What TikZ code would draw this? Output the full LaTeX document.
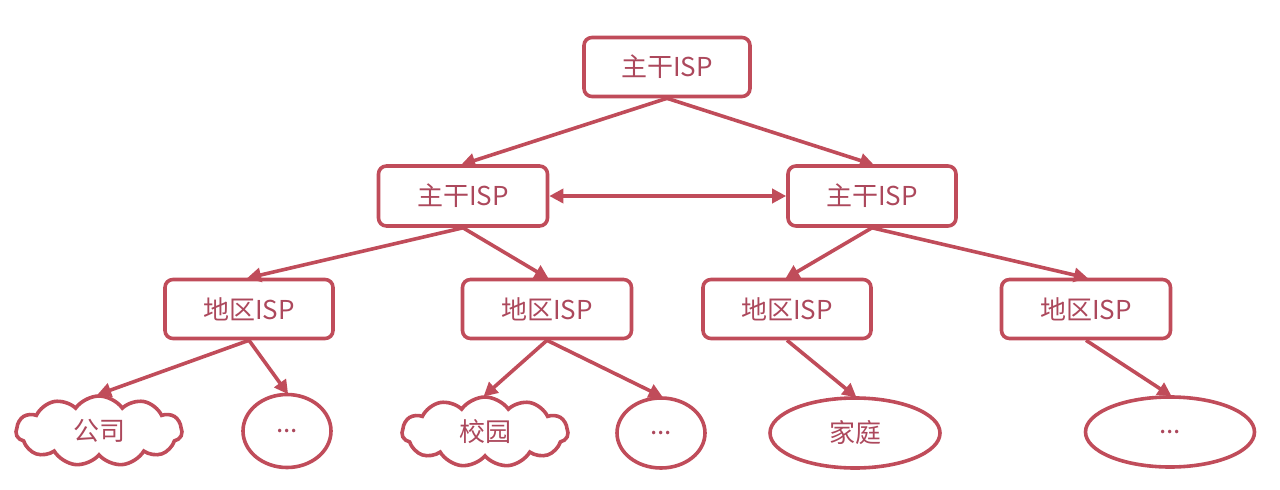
\documentclass[tikz,border=0pt]{standalone}
\usepackage{fontspec}
\setmainfont{Noto Sans CJK SC}
\usetikzlibrary{shapes.symbols,shapes.geometric,arrows.meta}
\definecolor{ln}{RGB}{192,76,90}
\definecolor{tx}{RGB}{172,72,92}
\tikzset{
  base/.style={draw=ln,line width=3.6pt,text=tx,font=\fontsize{26}{30}\selectfont,inner sep=0pt},
  isp/.style={base,rectangle,rounded corners=8pt,minimum width=166pt,minimum height=59pt},
  oval/.style={base,ellipse,minimum width=#1,minimum height=70pt},
  cld/.style={base,cloud,cloud puffs=11,cloud puff arc=110,aspect=2.4,minimum width=166pt,minimum height=70pt},
  conn/.style={draw=ln,line width=3.6pt,-{Triangle[length=14pt,width=14pt]},shorten >=-2pt},
  conn2/.style={draw=ln,line width=3.6pt,{Triangle[length=14pt,width=14pt]}-{Triangle[length=14pt,width=14pt]}}
}
\begin{document}
\begin{tikzpicture}[x=1pt,y=-1pt]
\useasboundingbox (0,0) rectangle (1280,490);
\node[isp] (top) at (667,67) {主干ISP};
\node[isp,minimum width=169pt,minimum height=60pt] (ml) at (463,196) {主干ISP};
\node[isp,minimum width=168pt,minimum height=60pt] (mr) at (872,196) {主干ISP};
\node[isp,minimum width=168pt] (r1) at (249,309) {地区ISP};
\node[isp,minimum width=169pt] (r2) at (547,309) {地区ISP};
\node[isp,minimum width=168pt] (r3) at (787,309) {地区ISP};
\node[isp,minimum width=169pt] (r4) at (1086,309) {地区ISP};
\node[cld] (c1) at (99,431) {公司};
\node[oval=88pt,minimum height=73pt] (e1) at (287,431) {...};
\node[cld] (c2) at (485,432) {校园};
\node[oval=88pt] (e2) at (661,433) {...};
\node[oval=170pt] (e3) at (855,433) {家庭};
\node[oval=169pt] (e4) at (1170,432) {...};
\draw[conn] (top.south) -- (ml.north);
\draw[conn] (top.south) -- (mr.north);
\draw[conn2] (ml.east) -- (mr.west);
\draw[conn] (ml.south) -- (r1.north);
\draw[conn] (ml.south) -- (r2.north);
\draw[conn] (mr.south) -- (r3.north);
\draw[conn] (mr.south) -- (r4.north);
\draw[conn] (r1.south) -- (c1.north);
\draw[conn] (r1.south) -- (e1.north);
\draw[conn] (r2.south) -- (c2.north);
\draw[conn] (r2.south) -- (e2.north);
\draw[conn] (r3.south) -- (e3.north);
\draw[conn] (r4.south) -- (e4.north);
\end{tikzpicture}
\end{document}
